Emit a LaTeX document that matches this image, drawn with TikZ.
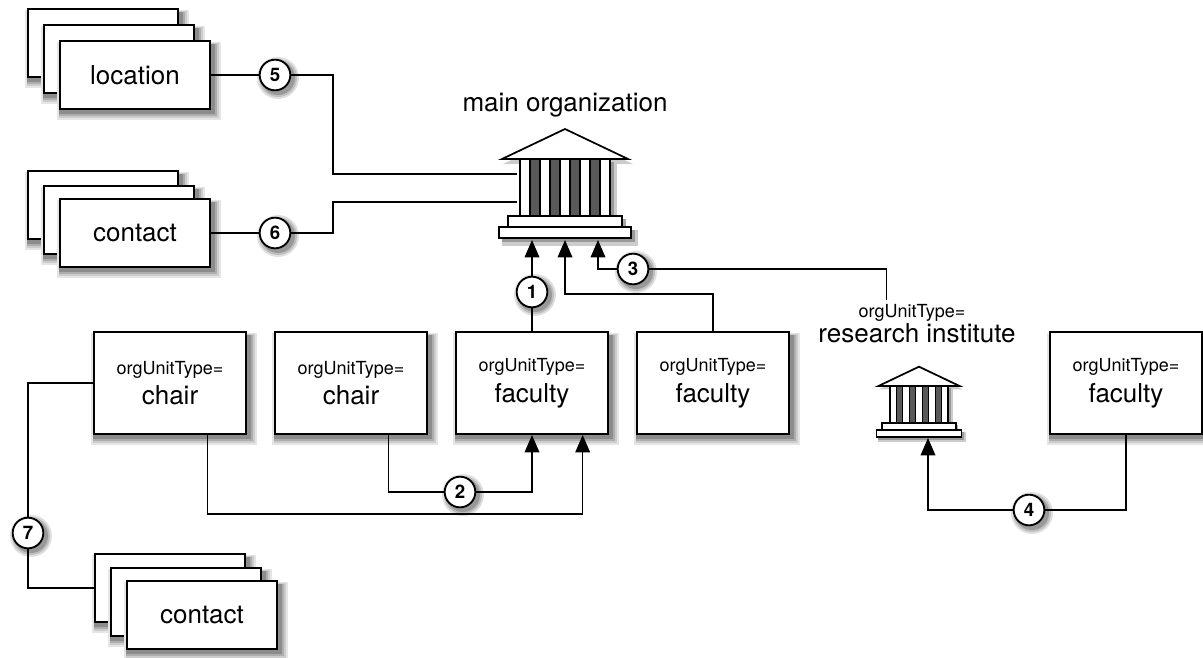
\documentclass[tikz,border=0pt]{standalone}
\usepackage{fontspec}
\setmainfont{TeX Gyre Heros}
\usetikzlibrary{arrows.meta}

\newcommand{\typ}{\fontsize{13.5}{14}\selectfont}
\newcommand{\lbl}{\fontsize{19.5}{23}\selectfont}

\tikzset{
  pics/boxsh/.style 2 args={code={
    \fill [black!10] (-#1-2,-#2-10) rectangle (#1+10,#2-2) ;
    \fill [black!20] (-#1,-#2-8) rectangle (#1+8,#2-3) ;
    \fill [black!32] (-#1,-#2-6) rectangle (#1+6,#2-4) ;
    \fill [black!45] (-#1,-#2-4) rectangle (#1+4,#2-4) ;
  }},
  pics/numsh/.style={code={
    \fill [black!12] (3,-3) circle [radius=21] ;
    \fill [black!25] (3,-3) circle [radius=19] ;
    \fill [black!40] (3,-3) circle [radius=17] ;
  }},
  bank/.pic={
    \fill [black!20] (-62,74) -- (3,105) -- (68,74) -- cycle ;
    \draw [line width=1.3pt, fill=white] (-63,79) -- (0,109) -- (63,79) -- cycle ;
    \fill [black!20] (-42,15) rectangle (52,77) ;
    \fill [black!40] (-42,18) rectangle (49,76) ;
    \draw [line width=1.3pt, fill=black!65] (-45,22) rectangle (45,79) ;
    \foreach \i in {0,2,4,6,8} \draw [line width=0.9pt, fill=white] (-45+10*\i,22) rectangle (-35+10*\i,79) ;
    \fill [black!35] (-54,7) rectangle (61,19) ;
    \draw [line width=1.3pt, fill=white] (-57,11) rectangle (57,22) ;
    \fill [black!20] (-63,-8) rectangle (73,8) ;
    \fill [black!40] (-63,-4) rectangle (70,8) ;
    \draw [line width=1.3pt, fill=white] (-66,0) rectangle (66,11) ;
  }
}

\begin{document}
\begin{tikzpicture}[x=0.75pt,y=0.75pt,yscale=-1,xscale=1,
  card/.style={draw, fill=white, line width=1.5pt, minimum width=113pt, minimum height=51pt, font=\lbl},
  unit/.style={draw, fill=white, line width=1.5pt, minimum width=114pt, minimum height=76.5pt, align=center, font=\lbl},
  num/.style={circle, draw, fill=white, line width=1.4pt, minimum size=23pt, inner sep=0pt, font=\bfseries\fontsize{14}{14}\selectfont},
  link/.style={line width=1pt},
  arr/.style={link, -{Triangle[width=11pt,length=13pt]}}
  ]
\useasboundingbox (0,0) rectangle (1203,657);

% buildings
\pic at (565,238) {bank};
\pic [scale=0.645] at (919,437) {bank};
\coordinate (mainL1) at (517,174);
\coordinate (mainL2) at (517,202);
\coordinate (mainB1) at (532,240);
\coordinate (mainB2) at (565,240);
\coordinate (mainB3) at (598,240);
\coordinate (resB) at (928,438);
\node [font=\lbl] (mainlbl) at (565,105) {main organization};
\node [font=\typ] (ritype) at (912,313) {orgUnitType=};
\node [font=\lbl] (riname) at (917,333) {research institute};

% stacked cards
\pic at (103,43) {boxsh={76}{35}};
\node [card] (loc3) at (103,43) {};
\pic at (119,59) {boxsh={76}{35}};
\node [card] (loc2) at (119,59) {};
\pic at (135,75) {boxsh={76}{35}};
\node [card] (loc) at (135,75) {location};
\pic at (103,205) {boxsh={76}{35}};
\node [card] (con3) at (103,205) {};
\pic at (119,220) {boxsh={76}{35}};
\node [card] (con2) at (119,220) {};
\pic at (135,233) {boxsh={76}{35}};
\node [card] (con) at (135,233) {contact};
\pic at (170,588) {boxsh={76}{35}};
\node [card] (cc3) at (170,588) {};
\pic at (186,602) {boxsh={76}{35}};
\node [card] (cc2) at (186,602) {};
\pic at (202,615) {boxsh={76}{35}};
\node [card] (cc) at (202,615) {contact};

% units
\foreach \px in {170,351,532,713,1126} \pic at (\px,383) {boxsh={77}{52}};
\node [unit] (chairA) at (170,383) {{\typ orgUnitType=}\\chair};
\node [unit] (chairB) at (351,383) {{\typ orgUnitType=}\\chair};
\node [unit] (facA) at (532,383) {{\typ orgUnitType=}\\faculty};
\node [unit] (facB) at (713,383) {{\typ orgUnitType=}\\faculty};
\node [unit] (facC) at (1126,383) {{\typ orgUnitType=}\\faculty};

% numbers
\foreach \px/\py in {532/292,460/492,633/269,1029/510,275/75,275/233,28/533} \pic at (\px,\py) {numsh};
\node [num] (n1) at (532,292) {1};
\node [num] (n2) at (460,492) {2};
\node [num] (n3) at (633,269) {3};
\node [num] (n4) at (1029,510) {4};
\node [num] (n5) at (275,75) {5};
\node [num] (n6) at (275,233) {6};
\node [num] (n7) at (28,533) {7};

% connectors
\draw [link] (loc) -- (n5) -- ++(58,0) |- (mainL1) ;
\draw [link] (con) -- (n6) -- ++(58,0) |- (mainL2) ;
\draw [arr] (facA) -- (n1) -- (mainB1) ;
\draw [arr] (facB.north) -- ++(0,-37) -| (mainB2) ;
\draw [arr] ([xshift=-19pt]ritype.north) |- (n3) -| (mainB3) ;
\draw [arr] (facC.south) |- (n4) -| (resB) ;
\draw [arr] ([xshift=28pt]chairB.south) |- (n2) -| (facA.south) ;
\draw [arr] ([xshift=28pt]chairA.south) -- ++(0,79) -| ([xshift=38pt]facA.south) ;
\draw [link] (chairA.west) -| (n7) |- (cc3.west) ;
\end{tikzpicture}
\end{document}
